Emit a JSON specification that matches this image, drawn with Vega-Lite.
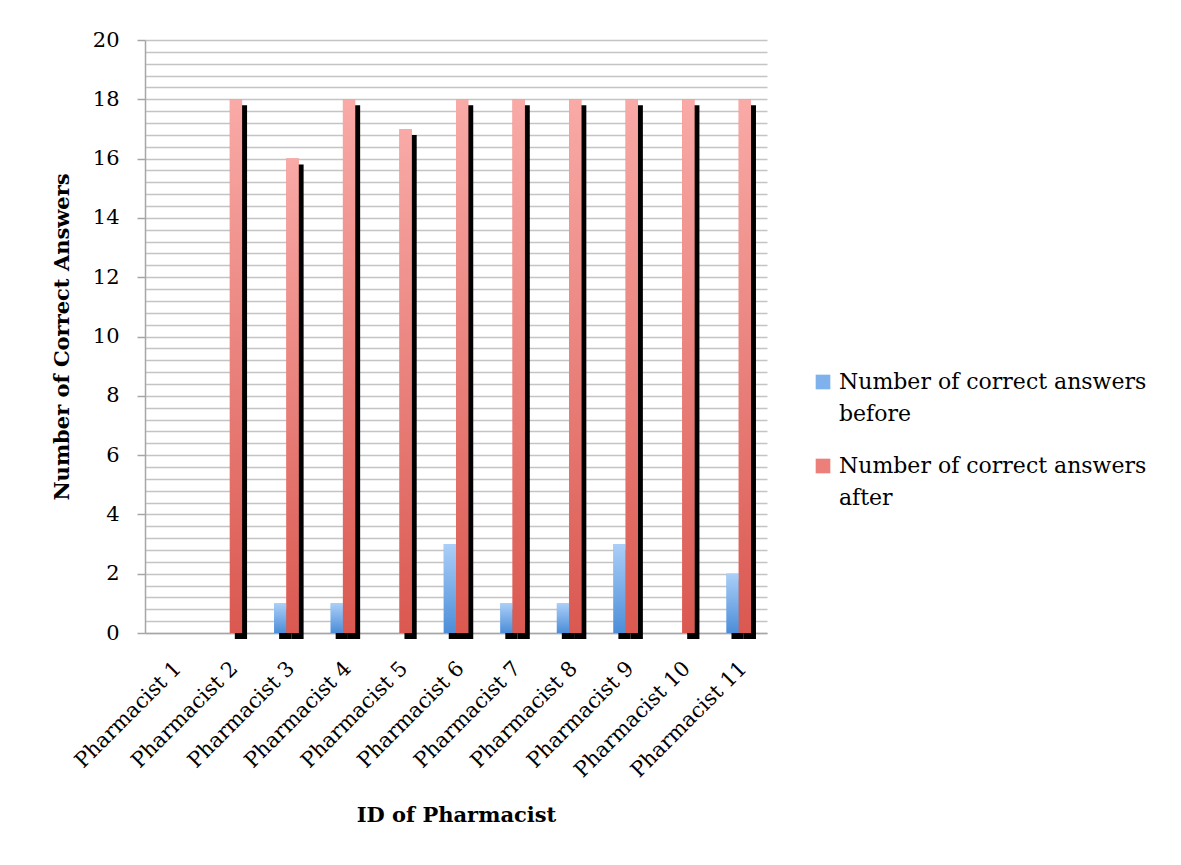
{
  "$schema": "https://vega.github.io/schema/vega-lite/v6.json",
  "width": 622,
  "height": 593,
  "autosize": {"type": "none"},
  "padding": {"left": 145, "top": 40, "right": 414, "bottom": 232},
  "background": "white",
  "config": {
    "view": {"stroke": null},
    "font": "DejaVu Serif"
  },
  "data": {
    "values": [
      {"id": "Pharmacist 1", "series": "Number of correct answers before", "value": 0},
      {"id": "Pharmacist 1", "series": "Number of correct answers after", "value": 0},
      {"id": "Pharmacist 2", "series": "Number of correct answers before", "value": 0},
      {"id": "Pharmacist 2", "series": "Number of correct answers after", "value": 18},
      {"id": "Pharmacist 3", "series": "Number of correct answers before", "value": 1},
      {"id": "Pharmacist 3", "series": "Number of correct answers after", "value": 16},
      {"id": "Pharmacist 4", "series": "Number of correct answers before", "value": 1},
      {"id": "Pharmacist 4", "series": "Number of correct answers after", "value": 18},
      {"id": "Pharmacist 5", "series": "Number of correct answers before", "value": 0},
      {"id": "Pharmacist 5", "series": "Number of correct answers after", "value": 17},
      {"id": "Pharmacist 6", "series": "Number of correct answers before", "value": 3},
      {"id": "Pharmacist 6", "series": "Number of correct answers after", "value": 18},
      {"id": "Pharmacist 7", "series": "Number of correct answers before", "value": 1},
      {"id": "Pharmacist 7", "series": "Number of correct answers after", "value": 18},
      {"id": "Pharmacist 8", "series": "Number of correct answers before", "value": 1},
      {"id": "Pharmacist 8", "series": "Number of correct answers after", "value": 18},
      {"id": "Pharmacist 9", "series": "Number of correct answers before", "value": 3},
      {"id": "Pharmacist 9", "series": "Number of correct answers after", "value": 18},
      {"id": "Pharmacist 10", "series": "Number of correct answers before", "value": 0},
      {"id": "Pharmacist 10", "series": "Number of correct answers after", "value": 18},
      {"id": "Pharmacist 11", "series": "Number of correct answers before", "value": 2},
      {"id": "Pharmacist 11", "series": "Number of correct answers after", "value": 18}
    ]
  },
  "encoding": {
    "x": {
      "field": "id",
      "type": "nominal",
      "sort": ["Pharmacist 1","Pharmacist 2","Pharmacist 3","Pharmacist 4","Pharmacist 5","Pharmacist 6","Pharmacist 7","Pharmacist 8","Pharmacist 9","Pharmacist 10","Pharmacist 11"],
      "scale": {"paddingInner": 0.567, "paddingOuter": 0.2835},
      "axis": {
        "title": "ID of Pharmacist",
        "titleFont": "DejaVu Serif",
        "titleFontSize": 21,
        "titleFontWeight": "bold",
        "titleColor": "#000000",
        "titlePadding": 24,
        "labelAngle": -45,
        "labelAlign": "right",
        "labelBaseline": "middle",
        "labelFont": "DejaVu Serif",
        "labelFontSize": 21,
        "labelColor": "#000000",
        "labelPadding": 32,
        "labelOffset": 5,
        "labelOverlap": false,
        "labelLimit": 300,
        "ticks": false,
        "tickSize": 0,
        "domainColor": "#a6a6a6",
        "domainWidth": 1.5,
        "grid": false
      }
    },
    "y": {
      "field": "value",
      "type": "quantitative",
      "scale": {"domain": [0, 20], "nice": false},
      "axis": {
        "title": "Number of Correct Answers",
        "titleFont": "DejaVu Serif",
        "titleFontSize": 21,
        "titleFontWeight": "bold",
        "titleColor": "#000000",
        "titlePadding": 20,
        "values": [0,0.4,0.8,1.2,1.6,2,2.4,2.8,3.2,3.6,4,4.4,4.8,5.2,5.6,6,6.4,6.8,7.2,7.6,8,8.4,8.8,9.2,9.6,10,10.4,10.8,11.2,11.6,12,12.4,12.8,13.2,13.6,14,14.4,14.8,15.2,15.6,16,16.4,16.8,17.2,17.6,18,18.4,18.8,19.2,19.6,20],
        "labelExpr": "datum.value % 2 == 0 ? format(datum.value, 'd') : ''",
        "labelFont": "DejaVu Serif",
        "labelFontSize": 21,
        "labelColor": "#000000",
        "labelPadding": 18,
        "labelOverlap": false,
        "tickSize": 8,
        "tickColor": "#a6a6a6",
        "tickWidth": 1.5,
        "tickOpacity": {"condition": {"test": "datum.value % 2 == 0", "value": 1}, "value": 0},
        "domainColor": "#a6a6a6",
        "domainWidth": 1.5,
        "grid": true,
        "gridColor": "#c4c4c4",
        "gridWidth": 1.5
      }
    }
  },
  "resolve": {"scale": {"xOffset": "independent"}},
  "layer": [
    {
      "transform": [{"filter": "datum.value > 0"}],
      "mark": {"type": "bar", "color": "#000000", "yOffset": 6, "y2Offset": 3},
      "encoding": {
        "xOffset": {
          "field": "series",
          "type": "nominal",
          "scale": {
            "domain": ["Number of correct answers before", "Number of correct answers after"],
            "range": [5, 29.49],
            "paddingInner": 0, "paddingOuter": 0
          }
        }
      }
    },
    {
      "mark": {"type": "bar"},
      "encoding": {
        "xOffset": {
          "field": "series",
          "type": "nominal",
          "scale": {
            "domain": ["Number of correct answers before", "Number of correct answers after"],
            "paddingInner": 0, "paddingOuter": 0
          }
        },
        "color": {
          "field": "series",
          "type": "nominal",
          "scale": {
            "domain": ["Number of correct answers before", "Number of correct answers after"],
            "range": ["#7fb2ec", "#ec7f79"]
          },
          "legend": {
            "title": null,
            "orient": "none",
            "legendX": 667,
            "legendY": 331,
            "padding": 0,
            "symbolType": "square",
            "symbolSize": 215,
            "symbolStrokeWidth": 0,
            "symbolOpacity": 1,
            "labelFont": "DejaVu Serif",
            "labelFontSize": 22,
            "labelColor": "#000000",
            "labelLimit": 400,
            "labelOffset": 5,
            "labelBaseline": "middle",
            "rowPadding": 30,
            "labelExpr": "[slice(datum.label, 0, 25), slice(datum.label, 26)]",
            "encode": {"labels": {"update": {"lineHeight": {"value": 32}}}}
          }
        }
      }
    },
    {
      "transform": [{"filter": "datum.series == 'Number of correct answers before'"}],
      "mark": {
        "type": "bar",
        "fill": {
          "gradient": "linear", "x1": 0, "y1": 0, "x2": 0, "y2": 1,
          "stops": [{"offset": 0, "color": "#abcff8"}, {"offset": 1, "color": "#4b8dd8"}]
        }
      },
      "encoding": {
        "xOffset": {
          "field": "series",
          "type": "nominal",
          "scale": {
            "domain": ["Number of correct answers before", "Number of correct answers after"],
            "range": [0, 24.49],
            "paddingInner": 0, "paddingOuter": 0
          }
        }
      }
    },
    {
      "transform": [{"filter": "datum.series == 'Number of correct answers after'"}],
      "mark": {
        "type": "bar",
        "fill": {
          "gradient": "linear", "x1": 0, "y1": 0, "x2": 0, "y2": 1,
          "stops": [{"offset": 0, "color": "#f9aaa7"}, {"offset": 1, "color": "#da5850"}]
        }
      },
      "encoding": {
        "xOffset": {
          "field": "series",
          "type": "nominal",
          "scale": {
            "domain": ["Number of correct answers before", "Number of correct answers after"],
            "range": [0, 24.49],
            "paddingInner": 0, "paddingOuter": 0
          }
        }
      }
    }
  ]
}
